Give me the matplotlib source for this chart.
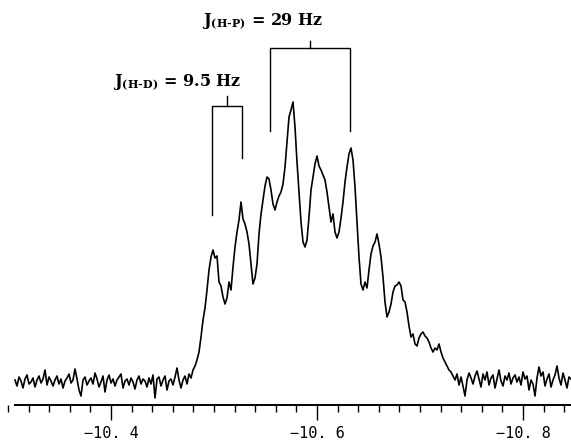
import numpy as np
import matplotlib
matplotlib.use("Agg")
import matplotlib.pyplot as plt
from matplotlib.ticker import FixedLocator, FixedFormatter

plt.rcParams['mathtext.fontset'] = 'dejavuserif'

# ---- spectrum data (chemical shift in ppm, intensity in arbitrary units) ----
ppm_start, ppm_end = -10.3068, -10.8466
base_left = [2, -4, 5, 1, -6, 3, 7, -2, 0, 4, -5, 2, 6, -1, 3, 12, -3, 5, 1, -4,
             2, 6, -2, 3, -6, 1, 4, 8, -1, 2, 13, 3, -8, -14, 2, 5, -3, 1, 4, -2,
             9, 3, -5, 0, 6, -10, 2, 7, -1, 3, -4, 2, 5, 8, -6, 1, 3, -3, 4, 0,
             -7, 2, 6, -2, 3, 1, -5, 4, -2, 7, -16, 3, 5, -4, 2, 6, -8, 1, 3, -3,
             5, 14, 2, -6]
signal = [2, 6, -2, 8, 4, 12, 16, 22, 30, 45, 62, 74, 92, 112, 125, 132, 124, 126, 100, 96,
          85, 78, 84, 100, 92, 115, 135, 150, 162, 180, 163, 158, 150, 138, 118, 98, 104, 118, 148, 168,
          182, 196, 205, 203, 192, 178, 172, 180, 186, 190, 198, 215, 240, 265, 272, 280, 255, 220, 190, 160,
          140, 135, 142, 165, 192, 205, 218, 226, 216, 212, 207, 202, 190, 175, 160, 168, 150, 144, 150, 164,
          180, 200, 215, 228, 234, 222, 195, 160, 125, 98, 92, 100, 94, 112, 128, 136, 140, 148, 138, 125,
          105, 80, 65, 70, 78, 90, 96, 97, 100, 96, 82, 80, 70, 56, 45, 48, 38, 36, 44, 48,
          50, 46, 44, 40, 34, 30, 34, 32, 38, 30, 24, 20, 16, 12, 10]
base_right = [6, 2, 8, -3, 5, -4, -14, 2, 9, 4, -2, 6, 11, 3, -5, 8, 2, 10, -3, 4,
              7, -6, 3, 12, 1, -4, 6, 2, 9, -2, 4, 7, 0, 5, -3, 10, 3, 6, -8, 2,
              -2, -14, 4, 15, 6, 10, -4, 3, 8, -5, 2, 7, 16, 4, -3, 9, 2, -6, 5, 3]
intensity = np.array(base_left + signal + base_right, dtype=float)
shift = np.linspace(ppm_start, ppm_end, len(intensity))

# axis ticks
major_ticks = [-10.4, -10.6, -10.8]
major_labels = ["\u221210. 4", "\u221210. 6", "\u221210. 8"]
minor_ticks = [round(-10.30 - 0.02 * k, 2) for k in range(28)]
minor_ticks = [t for t in minor_ticks if t not in major_ticks]

# coupling brackets: (left ppm, right ppm, bar height, tick height, left bottom, right bottom)
hp_bracket = (-10.5544, -10.6320, 334, 341, 251, 251)
hd_bracket = (-10.4981, -10.5272, 276, 286, 167, 224)
hp_label = (-10.4884, 356, "$\\mathbf{J_{(H\u2010P)}}$ = 29 Hz")
hd_label = (-10.4019, 295, "$\\mathbf{J_{(H\u2010D)}}$ = 9.5 Hz")

W, H = 571, 443
fig = plt.figure(figsize=(W / 100, H / 100), dpi=100)
ax = fig.add_axes([0, 1 - 405 / H, 1, 405 / H])
ax.plot(shift, intensity, color='black', lw=1.2)
ax.set_xlim(-10.29223, -10.84660)
ax.set_ylim(-23, 382)

for s in ['top', 'left', 'right']:
    ax.spines[s].set_visible(False)
ax.spines['bottom'].set_linewidth(1.4)
ax.spines['bottom'].set_bounds(ppm_start, -10.84660)
ax.yaxis.set_visible(False)
ax.xaxis.set_major_locator(FixedLocator(major_ticks))
ax.xaxis.set_major_formatter(FixedFormatter(major_labels))
ax.xaxis.set_minor_locator(FixedLocator(minor_ticks))
ax.tick_params(axis='x', which='major', length=11, width=1.0, pad=4,
               labelsize=11, direction='out')
ax.tick_params(axis='x', which='minor', length=5, width=1.0, direction='out')
for lab in ax.get_xticklabels():
    lab.set_fontfamily('DejaVu Sans Mono')


def bracket(b):
    x0, x1, hbar, htick, b0, b1 = b
    ax.plot([x0, x0, x1, x1], [b0, hbar, hbar, b1], color='black', lw=1.0)
    xm = (x0 + x1) / 2
    ax.plot([xm, xm], [hbar, htick], color='black', lw=1.0)


bracket(hp_bracket)
bracket(hd_bracket)
for (x, y, s) in (hp_label, hd_label):
    ax.text(x, y, s, ha='left', va='baseline', fontsize=11.5,
            fontfamily='DejaVu Serif', fontweight='bold')

fig.savefig('out.png', dpi=100)
